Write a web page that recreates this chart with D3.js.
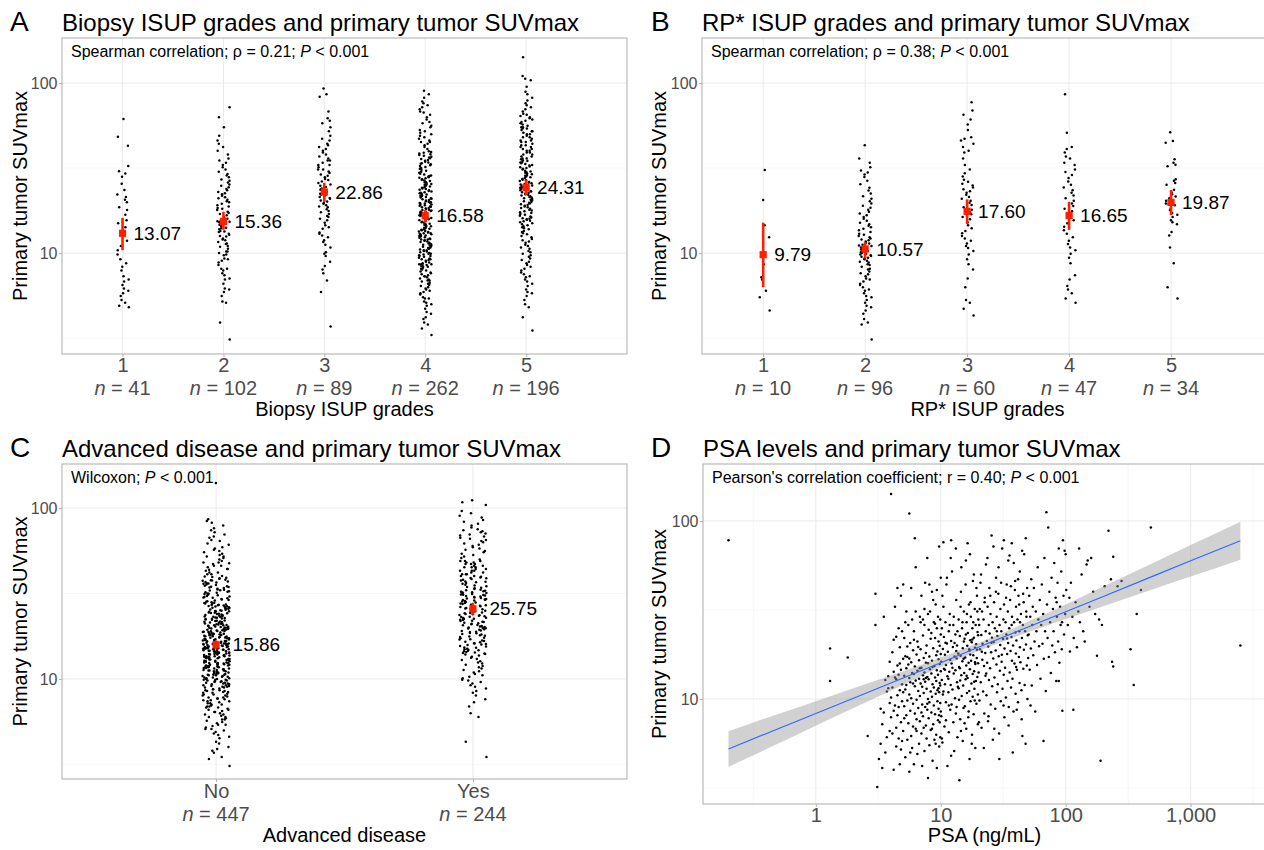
<!DOCTYPE html>
<html>
<head>
<meta charset="utf-8">
<script src="https://cdn.jsdelivr.net/npm/d3@7"></script>
<style>
  body { margin: 0; background: #fff; }
  svg text { font-family: "Liberation Sans", Arial, Helvetica, sans-serif; }
</style>
</head>
<body>
<div id="chart"></div>
<script>
// ---------- Panel A: biopsy ISUP grades ----------
const biopsyGrades = ["1", "2", "3", "4", "5"];
const biopsyCounts = [41, 102, 89, 262, 196];
const biopsyGeoMean = [13.07, 15.36, 22.86, 16.58, 24.31];
const biopsyCiLow = [10.4, 13.7, 20.0, 15.1, 21.9];
const biopsyCiHigh = [16.1, 17.5, 25.9, 17.9, 26.9];
const biopsySuv = [
  [4.8,4.9,5.1,5.3,5.6,5.8,6.0,6.2,6.5,6.8,7.0,7.3,7.9,8.3,8.7,9.2,9.8,10.4,11.0,11.8,13.1,13.6,14.2,15.0,15.6,16.8,17.9,18.6,19.9,20.6,21.4,22.1,23.5,25.6,28.1,29.4,30.3,32.5,42.8,48.3,61.5],
  [3.1,3.9,5.1,5.2,5.6,5.9,6.1,6.2,6.6,7.0,7.1,7.4,7.6,7.9,8.1,8.1,8.5,8.8,9.0,9.2,9.3,9.7,9.8,10.0,10.2,10.2,10.6,10.9,11.0,11.3,11.4,11.6,11.9,12.0,12.2,12.5,12.6,12.8,13.0,13.3,13.4,13.5,13.8,14.0,14.1,14.4,14.7,14.8,15.0,15.2,15.3,
   15.4,15.6,15.9,16.1,16.3,16.7,17.0,17.2,17.5,17.9,18.2,18.4,18.8,19.1,19.5,19.9,20.2,20.6,21.0,21.3,21.7,22.2,22.5,22.9,23.4,23.8,24.4,24.9,25.3,26.0,26.6,27.1,27.9,28.6,29.2,30.1,31,32,33,34,35,36,38,40,42,44,46,49,55,63,72],
  [3.7,5.9,6.9,7.6,8.0,8.4,8.9,9.6,9.9,10.1,10.8,11.2,11.6,11.9,12.4,12.7,13.0,13.2,13.9,14.2,14.6,15.1,15.6,15.9,16.3,16.5,17.0,17.4,17.7,18.1,18.6,18.8,19.1,19.5,19.7,20.1,20.4,20.9,21.1,21.4,21.9,22.0,22.3,22.6,22.9,
   23.2,23.6,24.0,24.5,24.9,25.3,25.8,26.4,26.9,27.3,27.9,28.5,29.0,29.6,30.2,31,31,32,33,33,34,35,35,36,37,38,39,40,41,42,43,44,46,47,49,52,55,58,60,62,68,83,86,93],
  [3.3,3.6,3.8,3.9,4.1,4.2,4.4,4.5,4.7,4.9,
   5.0,5.1,5.2,5.4,5.4,5.5,5.7,5.8,5.9,6.0,6.1,6.2,6.3,6.4,6.5,6.6,6.7,6.8,6.9,6.9,
   7.0,7.1,7.2,7.3,7.3,7.4,7.5,7.6,7.7,7.8,7.9,8.0,8.1,8.2,8.3,8.3,8.4,8.5,8.5,8.6,8.6,8.6,8.7,8.8,8.9,9.0,9.1,9.2,9.2,9.3,9.4,9.5,9.6,9.6,9.7,9.8,9.9,9.9,
   10.0,10.1,10.2,10.3,10.4,10.4,10.5,10.6,10.7,10.8,10.9,11.0,11.1,11.2,11.2,11.3,11.4,11.5,11.6,11.7,11.8,11.9,12.0,12.0,12.1,12.2,12.3,12.4,12.5,12.6,12.6,12.7,12.8,12.9,13.0,13.1,13.1,13.2,13.3,13.4,13.5,13.6,13.7,13.8,13.9,
   14.0,14.1,14.3,14.4,14.5,14.7,14.8,14.9,15.1,15.2,15.3,15.5,15.6,15.8,15.9,16.1,16.3,16.5,
   16.7,16.8,16.9,17.0,17.2,17.3,17.4,17.5,17.7,17.8,17.9,18.0,18.2,18.3,18.4,18.6,18.7,18.8,19.0,19.1,19.2,19.3,19.5,19.6,19.7,19.8,19.9,16.9,
   20.0,20.2,20.4,20.5,20.7,20.9,21.0,21.2,21.4,21.6,21.7,21.9,22.1,22.3,22.5,22.6,22.8,23.0,23.2,23.4,23.6,23.8,24.0,24.2,24.4,24.6,24.9,25.1,25.3,25.5,25.8,26.0,26.2,26.5,26.7,27.0,27.2,27.5,27.7,27.9,
   28.2,28.6,29.0,29.3,29.7,30.1,30.5,30.9,31.3,31.7,32.1,32.5,32.9,33.3,33.7,34.1,34.5,34.9,35.3,35.7,36.1,36.5,36.9,37.3,37.7,38.1,38.5,38.9,39.3,39.7,28.4,33.5,
   41,42,43,44,45,45,46,47,48,49,50,51,52,53,55,56,58,59,
   61,63,65,67,68,70,72,74,76,78,82,86,90],
  [3.5,4.2,4.8,5.0,5.3,5.6,5.8,5.9,
   6.1,6.4,6.6,6.8,7.0,7.2,7.3,7.5,7.7,7.9,8.1,8.3,8.5,8.7,8.9,9.1,9.3,9.5,9.7,9.9,
   10.1,10.3,10.6,10.8,11.0,11.2,11.5,11.7,11.9,12.1,12.4,12.6,12.9,13.1,13.3,13.5,13.8,14.0,14.2,14.4,14.6,14.8,15.0,15.2,15.4,15.5,15.7,15.8,15.9,16.0,
   16.2,16.4,16.6,16.8,17.0,17.2,17.4,17.6,17.8,18.0,18.2,18.4,18.6,18.8,19.0,19.2,19.4,19.6,19.8,20.0,20.2,20.4,20.6,20.8,21.0,21.2,21.4,21.6,21.8,22.0,22.2,22.4,22.6,22.8,23.0,23.2,23.4,23.6,23.9,24.2,
   24.4,24.6,24.8,25.0,25.3,25.5,25.7,26.0,26.2,26.5,26.8,27.0,27.3,27.6,27.9,28.2,28.5,28.8,29.1,29.4,29.7,29.9,30.2,30.5,31.0,31.3,31.6,32.0,32.3,32.7,33.0,33.4,33.8,34.1,34.5,34.8,35.2,35.6,
   36,36,37,37,38,38,39,39,40,40,41,41,42,42,43,43,44,45,45,46,46,47,48,48,49,50,50,51,52,52,53,54,54,55,55,
   56,57,58,59,60,61,62,63,64,65,66,68,70,72,74,76,79,82,86,89,
   95,104,106,110,142]
];

// ---------- Panel B: RP* ISUP grades ----------
const rpGrades = ["1", "2", "3", "4", "5"];
const rpCounts = [10, 96, 60, 47, 34];
const rpGeoMean = [9.79, 10.57, 17.60, 16.65, 19.87];
const rpCiLow = [6.3, 9.3, 14.8, 13.7, 16.7];
const rpCiHigh = [15.1, 11.6, 20.7, 20.0, 23.5];
const rpSuv = [
  [4.6,5.5,6.0,7.0,7.2,8.6,12.4,14.6,20.5,30.8],
  [3.1,3.8,3.9,4.1,4.4,4.6,4.8,4.9,5.1,5.3,5.5,5.6,5.8,6.0,6.1,6.3,6.5,6.6,6.8,7.0,7.1,7.3,7.5,7.6,7.8,8.0,8.1,8.3,8.5,8.6,8.8,8.9,9.0,9.2,9.3,9.4,9.5,9.6,9.7,9.8,9.9,10.0,10.1,10.2,10.3,10.4,10.5,10.6,
   10.7,10.8,11.0,11.1,11.2,11.4,11.5,11.7,11.9,12.0,12.2,12.4,12.6,12.8,13.0,13.3,13.6,13.9,14.2,14.5,14.8,15.1,15.5,15.9,16.3,16.7,17.1,17.5,18.0,18.5,19.0,19.6,20.2,20.9,21.6,22.4,23.3,24.2,25.4,26.6,28.0,29.0,29.8,30.6,32,34,36,43],
  [4.3,4.7,5.1,5.3,6.3,7.1,8.0,8.6,9.2,9.8,10.3,10.7,11.0,11.4,11.8,12.2,12.6,13.1,13.5,14.0,14.6,15.2,15.8,16.3,16.9,17.4,18.0,18.6,19.2,19.8,20.3,20.9,21.4,22.0,22.6,23.1,23.7,24.3,25.0,25.6,26.3,27.0,28.2,29.5,31,33,36,39,40,42,44,46,47,48,53,57,61,65,69,77],
  [5.1,5.4,5.8,6.1,6.4,7.0,7.4,8.7,9.4,9.9,10.4,10.8,11.3,11.8,12.4,13.0,13.6,14.3,15.0,15.6,16.3,17.0,17.6,18.2,18.9,19.6,20.3,21.0,21.8,22.6,23.4,24.3,25.2,26.4,27.6,28.8,30.0,31,33,34,36,37,39,41,42,51,86],
  [5.4,6.3,8.7,10.8,12.7,13.3,14.8,15.2,15.6,16.3,16.8,17.2,17.9,18.3,19.1,19.4,19.6,20.3,21.0,21.5,22.2,22.8,23.6,25.2,25.8,26.6,27.2,32.4,33.1,34.0,35.6,44.5,45.6,51.3]
];

// ---------- Panel C: advanced disease ----------
const advancedGroups = ["No", "Yes"];
const advancedCounts = [447, 244];
const advancedGeoMean = [15.86, 25.75];
const advancedCiLow = [15.0, 23.7];
const advancedCiHigh = [16.8, 27.9];
const advancedSuv = [
  [3.1,3.4,3.5,3.7,3.8,3.9,4.0,4.2,4.3,4.5,4.6,4.7,4.8,4.9,
   5.0,5.1,5.1,5.2,5.3,5.4,5.4,5.5,5.6,5.7,5.8,5.8,5.9,6.0,6.0,6.1,6.2,6.2,6.3,6.4,6.4,6.5,6.6,6.6,6.7,6.8,6.8,6.9,6.9,7.0,
   7.1,7.1,7.2,7.2,7.3,7.4,7.4,7.5,7.5,7.6,7.7,7.7,7.8,7.8,7.9,8.0,8.0,8.1,8.1,8.2,8.3,8.3,8.4,8.4,8.5,8.6,8.6,8.7,8.7,8.8,8.9,8.9,9.0,9.0,9.1,9.1,9.2,9.3,9.3,9.4,9.4,9.5,9.5,9.6,9.6,9.7,9.7,9.8,9.8,9.9,9.9,9.9,10.0,9.2,8.5,
   10.0,10.1,10.1,10.2,10.2,10.3,10.3,10.4,10.4,10.5,10.5,10.6,10.6,10.7,10.7,10.8,10.8,10.9,10.9,11.0,11.0,11.1,11.1,11.2,11.2,11.3,11.3,11.4,11.4,11.5,11.5,11.6,11.6,11.7,11.7,11.8,11.8,11.9,11.9,12.0,12.0,12.1,12.1,12.2,12.2,12.3,12.3,12.4,12.4,12.5,12.5,12.6,12.6,12.7,12.7,12.8,12.8,12.9,12.9,13.0,11.2,11.8,12.4,10.6,
   13.0,13.1,13.1,13.2,13.2,13.3,13.3,13.4,13.4,13.5,13.5,13.6,13.6,13.7,13.7,13.8,13.8,13.9,13.9,14.0,14.0,14.1,14.1,14.2,14.2,14.3,14.3,14.4,14.4,14.5,14.5,14.6,14.6,14.7,14.7,14.8,14.8,14.9,14.9,15.0,15.0,15.1,15.1,15.2,15.2,15.3,15.3,15.4,15.4,15.5,15.5,15.6,15.6,15.7,15.7,15.8,15.8,13.6,14.2,14.9,
   15.9,
   15.9,16.0,16.0,16.1,16.1,16.2,16.3,16.3,16.4,16.5,16.5,16.6,16.7,16.7,16.8,16.9,16.9,17.0,17.1,17.1,17.2,17.3,17.3,17.4,17.5,17.5,17.6,17.7,17.8,17.8,17.9,18.0,18.1,18.1,18.2,18.3,18.4,18.4,18.5,18.6,18.7,18.8,18.8,18.9,19.0,19.1,19.1,19.2,19.3,19.4,19.4,19.5,19.6,19.7,19.7,19.8,19.9,19.9,20.0,18.2,
   20.1,20.2,20.3,20.4,20.5,20.6,20.7,20.8,20.9,21.0,21.1,21.2,21.3,21.5,21.6,21.7,21.8,21.9,22.0,22.2,22.3,22.4,22.5,22.7,22.8,22.9,23.0,23.2,23.3,23.4,23.6,23.7,23.8,24.0,24.1,24.2,24.4,24.5,24.7,24.8,24.9,25.1,25.2,25.4,25.5,25.7,25.8,26.0,26.1,26.3,26.4,26.6,26.7,26.9,27.0,27.2,27.3,27.5,27.6,27.8,21.4,22.6,23.1,24.3,25.0,25.9,26.5,27.1,27.9,20.6,
   28.1,28.3,28.5,28.8,29.0,29.2,29.4,29.7,29.9,30.2,30.4,30.6,30.9,31.1,31.4,31.6,31.9,32.1,32.4,32.6,32.9,33.2,33.4,33.7,34.0,34.3,34.5,34.8,35.1,35.4,35.7,36.0,36.3,36.6,36.9,37.2,37.5,37.8,38.1,38.5,38.8,39.1,39.5,39.8,30.0,31.5,33.0,34.6,36.2,37.7,
   40,41,41,42,42,43,44,44,45,46,46,47,48,48,49,50,51,52,52,53,54,55,56,57,58,59,43.5,47.5,
   61,62,64,65,67,68,70,72,74,76,79,82,84,86,
   140],
  [3.5,4.3,6.0,
   6.3,6.9,7.3,7.6,8.0,8.3,8.5,8.8,9.0,9.2,9.4,9.6,9.8,9.9,
   10.1,10.3,10.5,10.7,10.9,11.1,11.3,11.5,11.7,11.9,12.1,12.3,12.5,12.7,12.9,13.1,13.3,13.5,13.7,13.9,14.0,14.1,14.2,14.3,14.4,14.5,14.6,14.7,14.8,14.9,
   15.0,15.2,15.3,15.5,15.6,15.8,15.9,16.1,16.2,16.4,16.5,16.7,16.8,17.0,17.1,17.3,17.4,17.6,17.7,17.9,18.0,18.2,18.3,18.5,18.6,18.8,18.9,19.1,19.2,19.4,19.5,19.7,19.8,19.9,16.0,
   20.0,20.1,20.3,20.4,20.6,20.7,20.9,21.0,21.2,21.3,21.5,21.6,21.8,21.9,22.1,22.2,22.4,22.5,22.7,22.8,23.0,23.1,23.3,23.4,23.6,23.7,23.9,24.0,24.2,24.3,24.5,24.6,24.8,24.9,25.1,25.2,25.4,25.5,25.6,25.7,
   25.8,26.0,26.2,26.4,26.6,26.8,27.0,27.2,27.4,27.6,27.8,28.0,28.2,28.4,28.6,28.8,29.0,29.2,29.4,29.6,29.8,30.0,30.2,30.4,30.6,30.8,31.0,31.2,31.4,31.6,31.8,32.0,32.2,32.4,32.6,32.8,33.0,33.3,33.6,33.9,34.2,34.5,34.8,29.1,31.1,
   35.2,35.6,36.0,36.4,36.8,37.2,37.6,38.0,38.4,38.8,39.2,39.6,40,40,41,41,42,42,43,43,44,44,45,45,46,46,47,47,48,48,49,49,50,37,39,41,43,45,47,49,
   51,52,53,54,55,56,57,58,59,60,61,62,63,64,65,66,67,68,69,70,71,72,73,74,75,
   77,79,81,83,85,88,90,93,96,
   104,108,111]
];

// ---------- Panel D: PSA vs SUVmax ----------
// [PSA ng/mL, SUVmax]
const psaPoints = [
  [0.2,78],[1.3,19.2],[1.3,12.6],[1.8,17.1],[2.6,6.2],[3.1,3.2],
  [3.0,26],[3.0,39],[3.2,4.6],[3.3,8.8],[3.3,5.6],[3.4,4.1],[3.4,7.2],[3.5,8.4],[3.5,29],[3.6,12.8],[3.6,5.0],[3.7,6.1],[3.7,11.0],[3.8,11.5],[3.8,13.4],[3.9,6.6],[3.9,16.2],[3.9,9.5],[4.0,142],[4.0,7.9],[4.0,10.2],[4.1,6.4],[4.1,11.6],[4.1,18.3],[4.2,14.2],[4.2,21.5],[4.2,8.6],[4.2,4.0],[4.3,9.2],[4.3,33],[4.3,13.2],[4.4,5.4],[4.4,12.9],[4.4,6.9],[4.4,22.4],[4.5,8.1],[4.5,10.5],[4.5,15.4],[4.5,42],[4.6,6.0],[4.6,25],[4.6,13.7],[4.6,9.0],[4.7,4.3],[4.7,11.2],[4.7,19.5],[4.7,15.8],[4.8,5.2],[4.8,7.4],[4.8,14.6],[4.8,38],[4.9,9.7],[4.9,12.1],[4.9,5.8],[4.9,24],[5.0,10.9],[5.0,16.8],[5.0,44],
  [5.0,6.6],[5.1,13.5],[5.1,9.1],[5.1,22],[5.2,4.7],[5.2,11.3],[5.2,17.4],[5.3,8.1],[5.3,14.9],[5.3,31],
  [5.3,12.0],[5.4,5.9],[5.4,19.7],[5.4,9.8],[5.5,7.3],[5.5,15.6],[5.5,26],[5.6,10.6],[5.6,3.9],[5.6,13.1],
  [5.6,110],[5.7,8.6],[5.7,12.4],[5.7,20.6],[5.8,6.2],[5.8,16.1],[5.8,10.1],[5.9,5.3],[5.9,28],[5.9,14.0],
  [6.0,9.4],[6.0,18.8],[6.0,7.0],[6.1,13.8],[6.1,4.3],[6.1,24],[6.2,11.8],[6.2,8.3],[6.2,80],[6.2,15.2],
  [6.3,6.8],[6.3,12.7],[6.3,55],[6.4,9.9],[6.4,17.8],[6.4,7.7],[6.5,14.4],[6.5,4.9],[6.5,21],[6.6,11.1],
  [6.6,8.9],[6.7,16.5],[6.7,5.6],[6.7,13.0],[6.8,29],[6.8,10.4],[6.8,7.5],[6.9,19.0],[6.9,12.2],[7.0,6.4],
  [7.0,15.0],[7.0,38],[7.1,9.3],[7.1,11.7],[7.1,4.2],[7.2,22.7],[7.2,8.0],[7.2,13.6],[7.3,17.0],[7.3,6.9],
  [7.3,10.8],[7.4,26],[7.4,14.1],[7.4,5.1],[7.5,9.0],[7.5,45],[7.5,12.5],[7.6,7.1],[7.6,18.1],[7.6,16.0],
  [7.7,11.4],[7.7,6.0],[7.7,20.0],[7.8,8.7],[7.8,13.3],[7.8,62],[7.9,15.9],[7.9,3.6],[7.9,10.0],[8.0,24.5],
  [8.0,7.8],[8.0,12.9],[8.1,17.3],[8.1,9.6],[8.1,5.5],[8.2,31],[8.2,14.7],[8.3,11.0],[8.3,6.7],[8.3,21.8],
  [8.4,13.9],[8.4,8.4],[8.5,40],[8.5,10.3],[8.5,16.4],[8.6,4.5],[8.6,12.1],[8.7,19.3],[8.7,7.2],[8.8,27],
  [8.8,11.6],[8.8,9.2],[8.9,15.3],[8.9,5.9],[9.0,13.2],[9.0,22.0],[9.0,8.2],[9.1,34],[9.1,10.7],[9.2,17.6],
  [9.2,6.3],[9.2,12.6],[9.3,14.5],[9.3,4.1],[9.3,25],[9.4,9.7],[9.4,18.5],[9.4,11.2],[9.5,7.6],[9.5,29],
  [9.5,13.7],[9.6,16.7],[9.6,8.8],[9.6,21],[9.7,10.9],[9.7,5.4],[9.7,72],[9.8,12.3],[9.8,19.9],[9.8,7.4],
  [9.8,15.7],[9.9,9.5],[9.9,28],[9.9,11.9],[9.9,6.1],[10.0,14.3],[10.0,23],[10.0,8.5],[10.0,17.9],[10.0,48],
  [5.2,27],[5.8,42],[6.3,31],[6.9,27],[7.4,32],[8.1,44],[8.7,36],[9.3,41],[5.6,16.9],[6.6,19.6],
  [7.2,28],[7.9,30],[8.4,23.5],[9.0,26.5],[5.4,17.2],[6.1,21.5],[6.8,14.9],[7.6,13.1],[8.6,15.1],[9.6,11.5],
  [5.1,7.8],[5.7,5.0],[6.4,6.6],[7.0,8.4],[7.8,9.4],[8.5,6.8],[9.1,5.6],[9.7,8.1],[6.0,12.2],[7.3,12.9],
  [10.5,76],[12.1,78],
  [10.1,16.2],[10.1,8.0],[10.2,25],[10.2,12.8],[10.3,5.7],[10.4,19.1],[10.4,10.6],[10.5,33],[10.6,14.8],[10.6,22.3],
  [10.7,7.0],[10.8,17.7],[10.8,12.1],[10.9,27],[11.0,9.6],[11.0,15.5],[11.1,44],[11.2,20.5],[11.3,4.2],[11.3,13.4],
  [11.4,18.4],[11.5,10.9],[11.6,24],[11.6,6.5],[11.7,14.2],[11.8,30],[11.9,8.7],[11.9,16.6],[12.0,12.0],[12.1,21.2],
  [12.2,9.3],[12.2,15.8],[12.3,52],[12.4,11.3],[12.5,19.6],[12.6,7.4],[12.6,26],[12.7,13.9],[12.8,5.1],[12.9,17.3],
  [13.0,10.1],[13.1,23],[13.1,14.5],[13.2,8.3],[13.3,36],[13.4,16.9],[13.5,12.4],[13.5,20.0],[13.6,6.1],[13.7,11.7],
  [13.8,18.0],[13.9,28],[14.0,9.9],[14.0,15.1],[14.1,3.5],[14.2,22.6],[14.3,12.7],[14.3,7.7],[14.4,17.5],[14.5,40],
  [14.6,13.6],[14.7,10.4],[14.8,25],[14.9,16.3],[15.0,5.8],[15.0,19.3],[15.1,11.9],[15.2,8.9],[15.3,31],[15.4,14.0],
  [15.5,21.8],[15.6,9.1],[15.7,17.1],[15.8,12.9],[15.9,60],[16.0,6.8],[16.0,15.4],[16.1,27],[16.2,10.8],[16.3,19.9],
  [16.4,13.1],[16.5,23.5],[16.6,7.9],[16.7,16.0],[16.8,34],[16.9,11.1],[17.0,18.7],[17.0,4.6],[17.1,14.7],[17.2,21.4],
  [17.3,9.7],[17.4,29],[17.5,16.4],[17.6,12.2],[17.7,20.8],[17.8,6.3],[17.9,25],[18.0,13.8],[18.0,10.3],[18.1,46],
  [18.2,17.6],[18.3,8.2],[18.4,22.1],[18.5,14.3],[18.6,11.4],[18.7,32],[18.8,19.4],[18.9,5.3],[18.9,15.7],[19.0,26],
  [19.1,12.6],[19.2,20.3],[19.3,9.4],[19.4,17.0],[19.5,38],[19.6,13.3],[19.7,23.8],[19.8,7.2],[19.9,15.9],[20.0,28],
  [10.3,38],[11.2,48],[12.0,62],[13.2,70],[14.6,55],[15.8,44],[17.1,65],[18.4,50],[19.3,42],[16.4,75],
  [10.9,20.7],[11.8,26],[12.7,29],[13.6,24],[14.4,33],[15.3,21],[16.2,30],[17.3,35],[18.2,27],[19.6,31],
  [10.5,11.0],[11.5,13.0],[12.4,15.0],[13.3,18.6],[14.2,14.9],[15.2,16.8],[16.1,13.5],[17.2,17.8],[18.5,12.5],[19.5,18.9],
  [10.2,6.0],[11.0,7.6],[12.1,4.8],[13.4,9.0],[14.5,6.6],[15.5,7.3],[16.7,8.5],[17.7,5.6],[18.7,9.8],[19.8,10.6],
  [10.8,14.6],[11.6,9.2],[12.9,20.6],[13.9,11.5],[14.9,27],[15.9,23],[16.9,19.0],[17.9,21.6],[18.8,16.1],[19.9,22.8],
  [20.1,14.1],[20.3,26],[20.4,9.8],[20.6,19.0],[20.8,45],[20.9,12.4],[21.1,22.9],[21.2,6.9],[21.4,31],[21.5,16.6],
  [21.6,20.4],[21.8,11.0],[22.0,28],[22.2,15.3],[22.3,8.3],[22.5,37],[22.7,18.1],[22.8,13.5],[22.9,24],[23.0,57],
  [23.2,10.5],[23.4,21.2],[23.5,16.0],[23.7,33],[23.9,7.5],[24.0,19.7],[24.2,26],[24.3,12.8],[24.5,42],[24.6,23.3],
  [24.8,14.9],[25.0,30],[25.1,9.3],[25.3,18.3],[25.5,83],[25.7,22.1],[25.8,11.8],[26.0,27],[26.1,5.9],[26.3,16.9],
  [26.5,20.9],[26.7,35],[26.9,13.2],[27.1,25],[27.3,8.8],[27.5,18.7],[27.7,48],[27.9,15.6],[28.0,29],[28.2,10.9],
  [28.4,22.6],[28.6,12.1],[28.9,39],[29.1,17.4],[29.3,6.4],[29.5,26],[29.7,14.4],[29.9,20.1],[30.0,32],[30.2,9.7],
  [30.5,24],[30.7,16.2],[31.0,70],[31.2,11.4],[31.5,21.7],[31.7,28],[31.9,13.7],[32.1,34],[32.3,7.9],[32.4,19.2],
  [32.7,15.0],[33.0,27],[33.2,10.2],[33.5,23.0],[33.7,44],[34.0,17.9],[34.2,12.6],[34.4,31],[34.6,20.6],[34.7,60],
  [35.0,9.0],[35.3,25],[35.6,14.1],[35.9,36],[36.2,18.6],[36.5,11.6],[36.8,22.3],[37.0,75],[37.1,16.4],[37.2,29],
  [37.5,13.0],[37.9,20.0],[38.2,8.5],[38.6,27],[38.9,15.8],[39.2,41],[39.5,23.6],[39.7,10.7],[39.9,18.0],[40.0,33],
  [40.3,21.3],[40.7,14.6],[41.1,28],[41.5,9.6],[41.9,38],[42.2,17.2],[42.5,24],[42.7,12.3],[42.9,52],[43.0,19.5],
  [43.4,16.1],[43.8,30],[44.2,11.2],[44.6,22.0],[45.0,6.2],[45.4,26],[45.8,14.8],[46.1,35],[46.3,18.9],[46.5,65],
  [46.9,12.0],[47.3,24],[47.7,5.6],[48.1,20.2],[48.5,29],[48.8,15.4],[49.1,42],[49.4,10.0],[49.7,22.8],[50.0,17.0],
  [21.0,50],[23.6,62],[26.4,72],[29.0,55],[32.0,78],[35.5,64],[38.4,58],[41.6,47],[44.8,68],[47.9,80],
  [20.5,32],[22.4,35],[24.9,38],[27.6,40],[30.4,45],[33.3,37],[36.4,43],[39.4,46],[42.4,34],[45.6,39],
  [20.2,7.4],[22.1,5.3],[24.1,8.0],[26.8,6.8],[29.4,4.6],[31.8,9.2],[34.9,7.1],[37.7,5.0],[40.5,8.7],[44.4,7.7],
  [21.3,18.4],[23.1,13.9],[25.4,20.7],[28.1,24],[30.8,17.7],[33.9,21.9],[36.9,26],[40.1,15.1],[43.1,27],[48.3,31],
  [50.5,23],[51,38],[51.5,14.6],[52,29],[52.6,19.2],[53,47],[53.5,11.9],[54,26],[54.5,33],[55,17.6],
  [55.6,42],[56.3,21],[57,8.5],[57.6,31],[58.3,24],[59,15.5],[59.7,55],[60.4,28],[61.2,19.8],[62,36],
  [62.8,13.0],[63.6,26],[64.4,44],[65.2,20.4],[66,30],[66.8,16.8],[67.6,62],[68.4,24],[69.2,11.1],[70,112],
  [70.8,34],[71.6,22],[72.4,92],[73.2,17.2],[74,40],[75,27],[76,14.0],[77,48],[78,20],[79,32],
  [80,24],[81,58],[82,18.3],[83,37],[84,12.6],[85,29],[86,45],[87,21],[88,70],[89,16.0],
  [90,33],[91,26],[92,52],[93,19.0],[94,8.6],[95,78],[96,38],[97,23],[98,68],[99,30],
  [100,65],[52.3,9.2],[66.4,5.8],[84.6,35],[93.5,27],[88,12.6],
  [101,41],[104,26],[107,37],[110,45],[113,29],[116,22],[120,35],[123,19.5],[126,31],[130,27],[134,50],[138,24],[142,21],
  [147,57],[150,60],[155,33],[160,62],[166,40],[172,30],[178,17.5],[185,28],[190,4.5],[195,26],[108,18.5],[128,70],[115,8.7],
  [205,43],[220,88],[230,47],[235,16.2],[240,63],[240,15.2],[260,43],[280,46],[330,19],[350,12],[370,30],[400,41],[480,92],[2500,20]
];
// fitted regression line (log-log) and its 95% band, read at these PSA values
const fitPsa = [0.2, 0.5, 1, 2, 5, 10, 20, 50, 100, 200, 500, 1000, 2500];
const fitSuv = [5.24, 6.81, 8.29, 10.1, 13.1, 16.0, 19.5, 25.4, 30.9, 37.7, 49.0, 59.7, 77.4];
const fitLow = [4.16, 5.62, 7.08, 8.91, 12.0, 15.1, 18.6, 23.7, 28.1, 33.2, 41.3, 48.7, 60.5];
const fitHigh = [6.59, 8.24, 9.72, 11.5, 14.3, 17.1, 20.6, 27.2, 34.0, 42.8, 58.0, 73.2, 99.1];

// ---------- drawing ----------
const svg = d3.select("#chart").append("svg")
    .attr("width", 1264)
    .attr("height", 850);

const GRID = "#ebebeb", GRID_MINOR = "#f4f4f4", BORDER = "#b3b3b3", AXIS_TXT = "#4d4d4d", RED = "#ff1f00";

// deterministic horizontal spread for the strip points
const spread = i => ((i * i * 0.6180339887 + i * 0.381966) % 1) * 2 - 1;

function makePanel(o) {
    const x = o.xLog
        ? d3.scaleLog().domain(o.xDomain).range([o.l, o.r])
        : d3.scaleLinear().domain(o.xDomain).range([o.l, o.r]);
    const y = d3.scaleLog().domain(o.yDomain).range([o.b, o.t]);

    const grid = svg.append("g");
    const hLines = (vals, color, w) => grid.append("g").selectAll("line").data(vals).enter().append("line")
        .attr("x1", o.l).attr("x2", o.r)
        .attr("y1", d => y(d)).attr("y2", d => y(d))
        .attr("stroke", color).attr("stroke-width", w);
    const vLines = (vals, color, w) => grid.append("g").selectAll("line").data(vals).enter().append("line")
        .attr("y1", o.t).attr("y2", o.b)
        .attr("x1", d => x(d)).attr("x2", d => x(d))
        .attr("stroke", color).attr("stroke-width", w);
    hLines(o.yMinor, GRID_MINOR, 0.7);
    vLines(o.xMinor || [], GRID_MINOR, 0.7);
    hLines(o.yMajor, GRID, 1);
    vLines(o.xMajor, GRID, 1);

    // headings
    svg.append("text").attr("x", o.letterX).attr("y", o.t - 7).attr("font-size", 28).text(o.letter);
    svg.append("text").attr("x", o.l).attr("y", o.t - 7).attr("font-size", 24).text(o.title);
    const note = svg.append("text").attr("x", o.l + 9).attr("y", o.t + 19).attr("font-size", 16);
    o.note.forEach(s => note.append("tspan").attr("font-style", s.italic ? "italic" : null).text(s.text));

    // axis titles
    svg.append("text")
        .attr("transform", `translate(${o.yTitleX},${(o.t + o.b) / 2}) rotate(-90)`)
        .attr("text-anchor", "middle").attr("font-size", 20)
        .text("Primary tumor SUVmax");
    svg.append("text")
        .attr("x", (o.l + o.r) / 2).attr("y", o.xTitleY)
        .attr("text-anchor", "middle").attr("font-size", 20)
        .text(o.xTitle);

    const g = svg.append("g");
    return { x, y, g, o };
}

function finishPanel(p, xTicks, xFormat) {
    const { x, y, o } = p;
    const yAxis = svg.append("g")
        .attr("transform", `translate(${o.l},0)`)
        .call(d3.axisLeft(y).tickValues(o.yMajor).tickFormat(d3.format(",")).tickSize(3).tickPadding(1.5));
    const xAxis = svg.append("g")
        .attr("transform", `translate(0,${o.b})`)
        .call(d3.axisBottom(x).tickValues(xTicks).tickFormat(xFormat).tickSize(3).tickPadding(o.xPad));
    [yAxis, xAxis].forEach(ax => {
        ax.attr("font-size", null).attr("font-family", null);
        ax.select(".domain").remove();
        ax.selectAll("line").attr("stroke", BORDER);
        ax.selectAll("text").attr("fill", AXIS_TXT);
    });
    yAxis.selectAll("text").attr("font-size", 16);
    xAxis.selectAll("text").attr("font-size", 20);

    svg.append("rect")
        .attr("x", o.l).attr("y", o.t)
        .attr("width", o.r - o.l).attr("height", o.b - o.t)
        .attr("fill", "none").attr("stroke", BORDER).attr("stroke-width", 1.1);
}

function stripPanel(o) {
    const p = makePanel(o);
    const { x, y, g } = p;
    o.values.forEach((vals, k) => {
        const cx = x(k + 1);
        g.append("g").selectAll("circle").data(vals).enter().append("circle")
            .attr("cx", (d, i) => cx + spread(i + 1) * o.jitter)
            .attr("cy", d => y(d))
            .attr("r", 1.25)
            .attr("fill", "#000");

        // geometric mean with 95% CI
        g.append("line")
            .attr("x1", cx).attr("x2", cx)
            .attr("y1", y(o.ciLow[k])).attr("y2", y(o.ciHigh[k]))
            .attr("stroke", RED).attr("stroke-width", 2.6);
        g.append("rect")
            .attr("x", cx - 3.6).attr("y", y(o.gm[k]) - 3.6)
            .attr("width", 7.2).attr("height", 7.2)
            .attr("fill", RED);
        g.append("text")
            .attr("x", cx + o.labelGap).attr("y", y(o.gm[k]))
            .attr("dy", "0.35em").attr("font-size", 19)
            .text(o.gm[k].toFixed(2));

        const nText = svg.append("text")
            .attr("x", cx).attr("y", o.nY)
            .attr("text-anchor", "middle").attr("font-size", 20).attr("fill", AXIS_TXT);
        nText.append("tspan").attr("font-style", "italic").text("n");
        nText.append("tspan").text(` = ${o.counts[k]}`);
    });
    finishPanel(p, o.categories.map((c, i) => i + 1), d => o.categories[d - 1]);
}

const yMajor = [10, 100];
const yMinor = [Math.sqrt(10), Math.sqrt(1000)];

stripPanel({
    l: 62, r: 627, t: 38, b: 354, xDomain: [0.4, 6], yDomain: [2.55, 184],
    xMajor: [1, 2, 3, 4, 5], yMajor, yMinor,
    letter: "A", letterX: 10, title: "Biopsy ISUP grades and primary tumor SUVmax",
    note: [{ text: "Spearman correlation; ρ = 0.21; " }, { text: "P", italic: true }, { text: " < 0.001" }],
    yTitleX: 26.5, xTitle: "Biopsy ISUP grades", xTitleY: 416, nY: 395, xPad: 0.5,
    categories: biopsyGrades, counts: biopsyCounts, values: biopsySuv,
    gm: biopsyGeoMean, ciLow: biopsyCiLow, ciHigh: biopsyCiHigh,
    jitter: 6.3, labelGap: 11
});

stripPanel({
    l: 702, r: 1273, t: 38, b: 354, xDomain: [0.4, 6], yDomain: [2.55, 184],
    xMajor: [1, 2, 3, 4, 5], yMajor, yMinor,
    letter: "B", letterX: 651, title: "RP* ISUP grades and primary tumor SUVmax",
    note: [{ text: "Spearman correlation; ρ = 0.38; " }, { text: "P", italic: true }, { text: " < 0.001" }],
    yTitleX: 666, xTitle: "RP* ISUP grades", xTitleY: 416, nY: 395, xPad: 0.5,
    categories: rpGrades, counts: rpCounts, values: rpSuv,
    gm: rpGeoMean, ciLow: rpCiLow, ciHigh: rpCiHigh,
    jitter: 6.5, labelGap: 11
});

stripPanel({
    l: 62, r: 627, t: 464, b: 779, xDomain: [0.4, 2.6], yDomain: [2.6, 180.8],
    xMajor: [1, 2], yMajor, yMinor,
    letter: "C", letterX: 10, title: "Advanced disease and primary tumor SUVmax",
    note: [{ text: "Wilcoxon; " }, { text: "P", italic: true }, { text: " < 0.001" }],
    yTitleX: 26.5, xTitle: "Advanced disease", xTitleY: 841.5, nY: 821, xPad: 1.5,
    categories: advancedGroups, counts: advancedCounts, values: advancedSuv,
    gm: advancedGeoMean, ciLow: advancedCiLow, ciHigh: advancedCiHigh,
    jitter: 13.5, labelGap: 16.5
});

// Panel D: scatter with log-log regression
const pd = makePanel({
    l: 703, r: 1266, t: 464, b: 804, xLog: true, xDomain: [0.125, 4009], yDomain: [2.57, 209],
    xMajor: [1, 10, 100, 1000], xMinor: [0.1, 1, 10, 100, 1000].map(d => d * Math.sqrt(10)),
    yMajor, yMinor,
    letter: "D", letterX: 651, title: "PSA levels and primary tumor SUVmax",
    note: [{ text: "Pearson's correlation coefficient; r = 0.40; " }, { text: "P", italic: true }, { text: " < 0.001" }],
    yTitleX: 666, xTitle: "PSA (ng/mL)", xTitleY: 841.5, xPad: 0.5
});

pd.g.append("g").selectAll("circle").data(psaPoints).enter().append("circle")
    .attr("cx", d => pd.x(d[0]))
    .attr("cy", d => pd.y(d[1]))
    .attr("r", 1.25)
    .attr("fill", "#000");

pd.g.append("path")
    .datum(fitPsa)
    .attr("d", d3.area()
        .x(d => pd.x(d))
        .y0((d, i) => pd.y(fitLow[i]))
        .y1((d, i) => pd.y(fitHigh[i]))
        .curve(d3.curveMonotoneX))
    .attr("fill", "#999999")
    .attr("fill-opacity", 0.45);

pd.g.append("path")
    .datum(fitPsa)
    .attr("d", d3.line()
        .x(d => pd.x(d))
        .y((d, i) => pd.y(fitSuv[i])))
    .attr("fill", "none")
    .attr("stroke", "#3366FF")
    .attr("stroke-width", 1.1);

finishPanel(pd, [1, 10, 100, 1000], d3.format(","));
</script>
</body>
</html>
